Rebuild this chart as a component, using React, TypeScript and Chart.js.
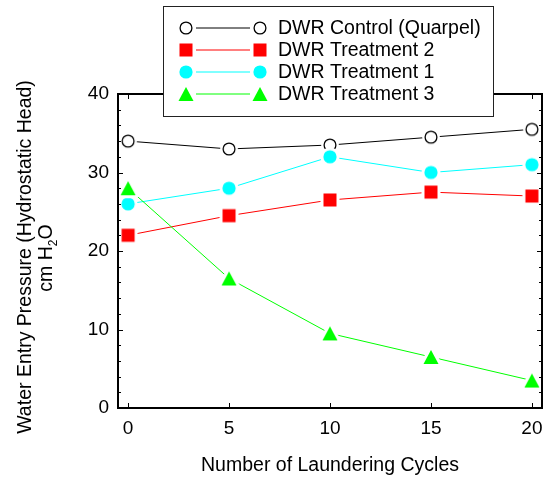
import React, { useEffect, useRef } from 'react';
import { Chart, registerables } from 'chart.js';

Chart.register(...registerables);

const cycles = [0, 5, 10, 15, 20];
const controlQuarpel = [34, 33, 33.5, 34.5, 35.5];
const treatment2 = [22, 24.5, 26.5, 27.5, 27];
const treatment1 = [26, 28, 32, 30, 31];
const treatment3 = [28, 16.5, 9.5, 6.5, 3.5];
const xTicks = [0, 5, 10, 15, 20];
const yTicks = [0, 10, 20, 30, 40];
const yMinorTicks = [2, 4, 6, 8, 12, 14, 16, 18, 22, 24, 26, 28, 32, 34, 36, 38];
const seriesNames = ['DWR Control (Quarpel)', 'DWR Treatment 2', 'DWR Treatment 1', 'DWR Treatment 3'];
const seriesColors = ['#000000', '#ff0000', '#00ffff', '#00ff00'];
const seriesMarkers = ['openCircle', 'square', 'circle', 'triangle'];
const xTitle = 'Number of Laundering Cycles';
const yTitleLine1 = 'Water Entry Pressure (Hydrostatic Head)';
const yTitleLine2 = ['cm H', '2', 'O'];

const FONT = "'Liberation Sans', Arial, sans-serif";

function makeMarker(kind: string, color: string): HTMLCanvasElement {
  const size = 28;
  const c = document.createElement('canvas');
  c.width = size;
  c.height = size;
  const g = c.getContext('2d')!;
  const cx = size / 2;
  const cy = size / 2;
  const gap = 3;
  g.fillStyle = '#ffffff';
  g.strokeStyle = '#ffffff';
  if (kind === 'openCircle' || kind === 'circle') {
    const r = kind === 'circle' ? 6.6 : 5.9;
    g.beginPath();
    g.arc(cx, cy, r + gap, 0, Math.PI * 2);
    g.fill();
    g.beginPath();
    g.arc(cx, cy, r, 0, Math.PI * 2);
    if (kind === 'circle') {
      g.fillStyle = color;
      g.fill();
    } else {
      g.fillStyle = '#ffffff';
      g.fill();
      g.lineWidth = 1.3;
      g.strokeStyle = color;
      g.stroke();
    }
  } else if (kind === 'square') {
    const s = 13;
    g.fillRect(cx - s / 2 - gap, cy - s / 2 - gap, s + 2 * gap, s + 2 * gap);
    g.fillStyle = color;
    g.fillRect(cx - s / 2, cy - s / 2, s, s);
  } else {
    const w = 15;
    const h = 14;
    const path = () => {
      g.beginPath();
      g.moveTo(cx, cy - h / 2);
      g.lineTo(cx + w / 2, cy + h / 2);
      g.lineTo(cx - w / 2, cy + h / 2);
      g.closePath();
    };
    path();
    g.lineWidth = gap * 2;
    g.lineJoin = 'round';
    g.stroke();
    g.fill();
    path();
    g.fillStyle = color;
    g.fill();
  }
  return c;
}

export default function App() {
  const canvasRef = useRef<HTMLCanvasElement | null>(null);

  useEffect(() => {
    const canvas = canvasRef.current;
    if (!canvas) return;
    const markers = seriesMarkers.map((m, i) => makeMarker(m, seriesColors[i]));
    const values = [controlQuarpel, treatment2, treatment1, treatment3];

    const framePlugin = {
      id: 'framePlugin',
      afterDatasetsDraw(chart: any) {
        const { ctx, chartArea } = chart;
        const xs = chart.scales.x;
        const ys = chart.scales.y;
        const { left, right, top, bottom } = chartArea;
        ctx.save();
        ctx.strokeStyle = '#000000';
        ctx.lineWidth = 2;
        ctx.strokeRect(left, top, right - left, bottom - top);
        ctx.lineWidth = 1;
        ctx.beginPath();
        xTicks.forEach((v) => {
          const px = Math.round(xs.getPixelForValue(v)) + 0.5;
          ctx.moveTo(px, bottom);
          ctx.lineTo(px, bottom - 5);
          ctx.moveTo(px, top);
          ctx.lineTo(px, top + 5);
        });
        yTicks.forEach((v) => {
          const py = Math.round(ys.getPixelForValue(v)) + 0.5;
          ctx.moveTo(left, py);
          ctx.lineTo(left + 5, py);
          ctx.moveTo(right, py);
          ctx.lineTo(right - 5, py);
        });
        yMinorTicks.forEach((v) => {
          const py = Math.round(ys.getPixelForValue(v)) + 0.5;
          ctx.moveTo(left, py);
          ctx.lineTo(left + 3, py);
          ctx.moveTo(right, py);
          ctx.lineTo(right - 3, py);
        });
        ctx.stroke();
        ctx.restore();
      },
      afterDraw(chart: any) {
        const { ctx, chartArea } = chart;
        ctx.save();
        ctx.fillStyle = '#000000';
        // X title
        ctx.font = `19.5px ${FONT}`;
        ctx.textAlign = 'center';
        ctx.textBaseline = 'middle';
        ctx.fillText(xTitle, (chartArea.left + chartArea.right) / 2, 466);
        // Y title
        ctx.save();
        ctx.translate(26, 257);
        ctx.rotate(-Math.PI / 2);
        ctx.fillText(yTitleLine1, 0, 0);
        ctx.restore();
        ctx.save();
        ctx.translate(47, 258);
        ctx.rotate(-Math.PI / 2);
        ctx.textAlign = 'left';
        ctx.font = `19.5px ${FONT}`;
        const w0 = ctx.measureText(yTitleLine2[0]).width;
        const w2 = ctx.measureText(yTitleLine2[2]).width;
        ctx.font = `12px ${FONT}`;
        const w1 = ctx.measureText(yTitleLine2[1]).width;
        let x0 = -(w0 + w1 + w2) / 2;
        ctx.font = `19.5px ${FONT}`;
        ctx.fillText(yTitleLine2[0], x0, 0);
        x0 += w0;
        ctx.font = `12px ${FONT}`;
        ctx.fillText(yTitleLine2[1], x0, 7);
        x0 += w1;
        ctx.font = `19.5px ${FONT}`;
        ctx.fillText(yTitleLine2[2], x0, 0);
        ctx.restore();

        // Legend box
        const bx = 163.5, by = 6.5, bw = 330, bh = 110;
        ctx.fillStyle = '#ffffff';
        ctx.fillRect(bx, by, bw, bh);
        ctx.strokeStyle = '#222222';
        ctx.lineWidth = 1;
        ctx.strokeRect(bx, by, bw, bh);
        const rows = [28, 50, 72, 94];
        ctx.font = `19.5px ${FONT}`;
        ctx.textAlign = 'left';
        ctx.textBaseline = 'middle';
        seriesNames.forEach((name, i) => {
          const ry = rows[i];
          ctx.strokeStyle = seriesColors[i];
          ctx.lineWidth = 1;
          ctx.beginPath();
          ctx.moveTo(196, ry);
          ctx.lineTo(250, ry);
          ctx.stroke();
          const m = markers[i];
          ctx.drawImage(m, 186 - m.width / 2, ry - m.height / 2);
          ctx.drawImage(m, 260 - m.width / 2, ry - m.height / 2);
          ctx.fillStyle = '#000000';
          ctx.fillText(name, 278, ry + 1);
        });
        ctx.restore();
      },
    };

    const chart = new Chart(canvas, {
      type: 'line',
      data: {
        datasets: seriesNames.map((name, i) => ({
          label: name,
          data: cycles.map((c, j) => ({ x: c, y: values[i][j] })),
          borderColor: seriesColors[i],
          backgroundColor: seriesColors[i],
          borderWidth: 1,
          pointStyle: markers[i] as any,
          pointRadius: 7,
          tension: 0,
          clip: false as any,
          order: 3 - i,
        })),
      },
      options: {
        animation: false,
        responsive: true,
        maintainAspectRatio: false,
        events: [],
        layout: { padding: { top: 94, right: 1, left: 0, bottom: 0 } },
        plugins: { legend: { display: false }, tooltip: { enabled: false }, title: { display: false } },
        scales: {
          x: {
            type: 'linear',
            min: -0.5,
            max: 20.5,
            afterBuildTicks: (axis: any) => {
              axis.ticks = xTicks.map((v) => ({ value: v }));
            },
            afterFit: (s: any) => {
              s.height = 70;
              s.paddingLeft = 0;
              s.paddingRight = 0;
            },
            grid: { display: false, drawTicks: false },
            border: { display: false },
            ticks: {
              color: '#000000',
              font: { family: FONT, size: 19 },
              padding: 9,
              maxRotation: 0,
              autoSkip: false,
            },
          },
          y: {
            type: 'linear',
            min: 0,
            max: 40,
            afterBuildTicks: (axis: any) => {
              axis.ticks = yTicks.map((v) => ({ value: v }));
            },
            afterFit: (s: any) => {
              s.width = 118;
              s.paddingTop = 0;
              s.paddingBottom = 0;
            },
            grid: { display: false, drawTicks: false },
            border: { display: false },
            ticks: {
              color: '#000000',
              font: { family: FONT, size: 19 },
              padding: 9,
              autoSkip: false,
            },
          },
        },
      },
      plugins: [framePlugin],
    });
    return () => chart.destroy();
  }, []);

  return (
    <div style={{ position: 'fixed', left: 0, top: 0, width: 550, height: 478, background: '#ffffff' }}>
      <canvas ref={canvasRef} />
    </div>
  );
}
